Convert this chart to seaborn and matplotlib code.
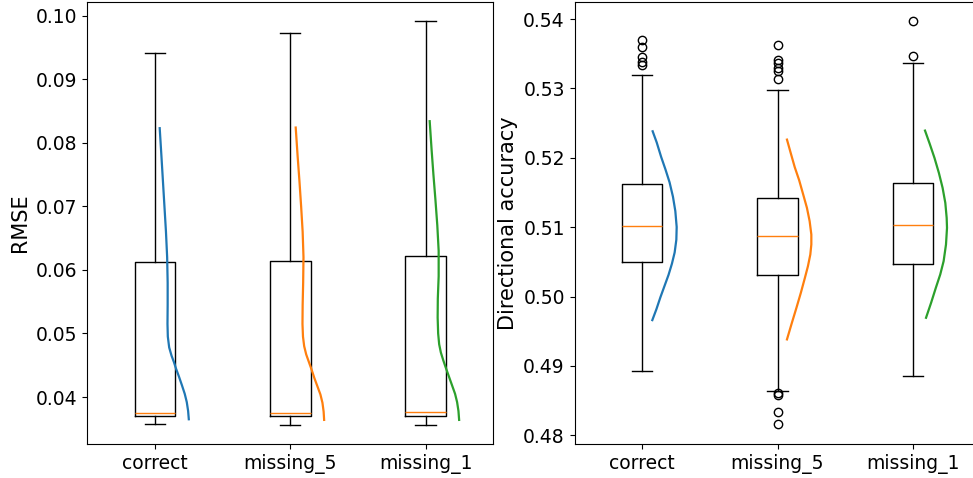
import matplotlib
matplotlib.use("Agg")
import matplotlib.pyplot as plt
import seaborn as sns
import numpy as np

groups = ["correct", "missing_5", "missing_1"]
colors = ["#1f77b4", "#ff7f0e", "#2ca02c"]

# ---- RMSE box statistics ----
rmse_q1 = [0.03701, 0.03701, 0.03701]
rmse_med = [0.03753, 0.03753, 0.03764]
rmse_q3 = [0.06123, 0.06138, 0.06222]
rmse_lo = [0.03575, 0.03565, 0.03565]
rmse_hi = [0.0942, 0.09728, 0.0991]
rmse_fliers = [[], [], []]

# ---- RMSE density curves (value, normalised density) ----
rmse_kde_val = [
    [0.0823, 0.0780, 0.0740, 0.0700, 0.0660, 0.0620, 0.0580, 0.0545, 0.0515,
     0.0495, 0.0478, 0.0465, 0.0455, 0.0445, 0.0432, 0.0418, 0.0405, 0.0392,
     0.0378, 0.0365],
    [0.0824, 0.0780, 0.0740, 0.0700, 0.0660, 0.0620, 0.0580, 0.0545, 0.0515,
     0.0495, 0.0480, 0.0467, 0.0455, 0.0443, 0.0430, 0.0417, 0.0404, 0.0391,
     0.0377, 0.0364],
    [0.0834, 0.0790, 0.0750, 0.0710, 0.0670, 0.0630, 0.0590, 0.0555, 0.0525,
     0.0500, 0.0483, 0.0470, 0.0458, 0.0447, 0.0435, 0.0420, 0.0405, 0.0392,
     0.0378, 0.0364],
]
rmse_kde_den = [
    [0.14, 0.19, 0.235, 0.28, 0.325, 0.36, 0.375, 0.375, 0.37, 0.38, 0.42,
     0.49, 0.56, 0.62, 0.71, 0.80, 0.88, 0.94, 0.98, 1.00],
    [0.16, 0.215, 0.27, 0.32, 0.365, 0.39, 0.38, 0.365, 0.36, 0.375, 0.41,
     0.47, 0.55, 0.63, 0.71, 0.80, 0.89, 0.95, 0.985, 1.00],
    [0.12, 0.175, 0.23, 0.29, 0.345, 0.385, 0.385, 0.36, 0.355, 0.37, 0.40,
     0.45, 0.52, 0.59, 0.67, 0.77, 0.87, 0.93, 0.97, 0.99],
]

# ---- Directional accuracy box statistics ----
da_q1 = [0.50496, 0.50304, 0.50462]
da_med = [0.51019, 0.5087, 0.51034]
da_q3 = [0.51624, 0.51417, 0.51633]
da_lo = [0.48922, 0.48634, 0.48854]
da_hi = [0.53193, 0.52972, 0.53361]
da_fliers = [
    [0.5370, 0.5359, 0.5346, 0.5338, 0.5334],
    [0.5362, 0.5341, 0.5337, 0.5330, 0.5325, 0.5314, 0.4861, 0.4858, 0.4833, 0.4816],
    [0.5397, 0.5347],
]

# ---- Directional accuracy density curves ----
da_kde_val = [
    [0.52382, 0.52221, 0.52014, 0.5183, 0.51646, 0.51439, 0.51232, 0.51002,
     0.50819, 0.50635, 0.50474, 0.50313, 0.50152, 0.49991, 0.49816, 0.4966],
    [0.52262, 0.5207, 0.51864, 0.51677, 0.5147, 0.51278, 0.51086, 0.50894,
     0.5075, 0.50606, 0.50438, 0.5027, 0.50054, 0.49838, 0.49613, 0.49382],
    [0.52392, 0.522, 0.51998, 0.51782, 0.51566, 0.5135, 0.51134, 0.5099,
     0.5075, 0.5051, 0.50318, 0.50126, 0.4991, 0.49694],
]
da_kde_den = [
    [0.31, 0.43, 0.56, 0.69, 0.81, 0.91, 0.98, 1.02, 1.01, 0.96, 0.88, 0.78,
     0.66, 0.54, 0.42, 0.30],
    [0.28, 0.39, 0.51, 0.64, 0.76, 0.87, 0.95, 1.00, 1.00, 0.97, 0.90, 0.81,
     0.69, 0.56, 0.42, 0.28],
    [0.36, 0.50, 0.64, 0.77, 0.88, 0.96, 1.00, 1.01, 0.98, 0.91, 0.81, 0.68,
     0.54, 0.39],
]

KDE_WIDTH = 0.25
positions = [1, 2, 3]


def make_stats(q1, med, q3, lo, hi, fl):
    out = []
    for i in range(len(q1)):
        out.append(dict(q1=q1[i], med=med[i], q3=q3[i], whislo=lo[i],
                        whishi=hi[i], fliers=np.array(fl[i])))
    return out


fig = plt.figure(figsize=(9.73, 4.78), dpi=100)
ax1 = fig.add_axes([87.3 / 973, 33.7 / 478, 406 / 973, 442.6 / 478])
ax2 = fig.add_axes([574.5 / 973, 33.7 / 478, 406 / 973, 442.6 / 478])

panels = [
    (ax1, make_stats(rmse_q1, rmse_med, rmse_q3, rmse_lo, rmse_hi, rmse_fliers),
     rmse_kde_val, rmse_kde_den, "RMSE", (0.03256, 0.1022)),
    (ax2, make_stats(da_q1, da_med, da_q3, da_lo, da_hi, da_fliers),
     da_kde_val, da_kde_den, "Directional accuracy", (0.4787, 0.5425)),
]

for ax, stats, kv, kd, ylab, ylim in panels:
    ax.bxp(stats, positions=positions, widths=0.3, manage_ticks=False,
           boxprops=dict(color="black", linewidth=1.0),
           whiskerprops=dict(color="black", linewidth=1.0),
           capprops=dict(color="black", linewidth=1.0),
           medianprops=dict(color="#ff7f0e", linewidth=1.0),
           flierprops=dict(marker="o", markerfacecolor="none",
                           markeredgecolor="black", markersize=6))
    for i, pos in enumerate(positions):
        xs = pos + KDE_WIDTH * np.array(kd[i])
        sns.lineplot(x=xs, y=np.array(kv[i]), sort=False, estimator=None,
                     color=colors[i], linewidth=1.6, ax=ax, legend=False)
    ax.set_xlim(0.5, 3.5)
    ax.set_ylim(*ylim)
    ax.set_xticks(positions)
    ax.set_xticklabels(groups)
    ax.set_xlabel("")
    ax.set_ylabel(ylab, fontsize=15)
    ax.tick_params(labelsize=13.5)

ax1.set_yticks([0.04, 0.05, 0.06, 0.07, 0.08, 0.09, 0.10])
ax1.set_yticklabels(["0.04", "0.05", "0.06", "0.07", "0.08", "0.09", "0.10"])
ax2.set_yticks([0.48, 0.49, 0.50, 0.51, 0.52, 0.53, 0.54])
ax2.set_yticklabels(["0.48", "0.49", "0.50", "0.51", "0.52", "0.53", "0.54"])

fig.savefig("out.png", dpi=100)
